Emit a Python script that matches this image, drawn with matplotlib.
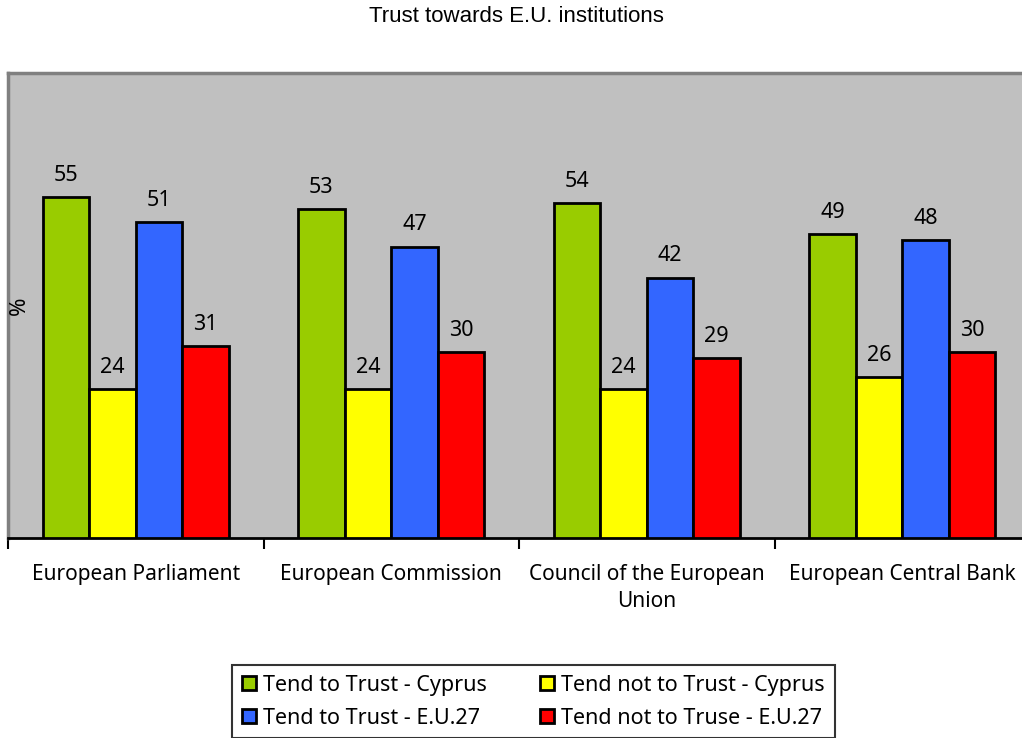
import matplotlib
matplotlib.use("Agg")
import matplotlib.pyplot as plt
import numpy as np
from matplotlib.patches import Patch

categories = ["European Parliament", "European Commission",
              "Council of the European\nUnion", "European Central Bank"]
series_names = ["Tend to Trust - Cyprus", "Tend not to Trust - Cyprus",
                "Tend to Trust - E.U.27", "Tend not to Truse - E.U.27"]
trust_cy = [55, 53, 54, 49]
distrust_cy = [24, 24, 24, 26]
trust_eu = [51, 47, 42, 48]
distrust_eu = [31, 30, 29, 30]
colors = ["#99CC00", "#FFFF00", "#3366FF", "#FF0000"]

FONT = "Noto Sans"
W, H = 1022, 738
fig = plt.figure(figsize=(W / 100, H / 100), dpi=100)
ax = fig.add_axes([8 / W, (H - 538) / H, (1030 - 8) / W, (538 - 73) / H])
ax.set_facecolor("#C0C0C0")

data = [trust_cy, distrust_cy, trust_eu, distrust_eu]
x = np.arange(len(categories))
bw = 0.182
for i, (vals, c) in enumerate(zip(data, colors)):
    pos = x + (i - 1.5) * bw
    bars = ax.bar(pos, vals, width=bw, color=c, edgecolor="black", linewidth=2, zorder=3)
    for b, v in zip(bars, vals):
        ax.text(b.get_x() + b.get_width() / 2, v + 1.8, str(v), ha="center", va="bottom",
                fontsize=15.5, family=FONT)

ax.set_xlim(-0.5, len(categories) - 0.5)
ax.set_ylim(0, 75)
ax.set_yticks([])
ax.set_xticks(np.arange(len(categories) + 1) - 0.5)
ax.set_xticklabels([])
ax.set_xticks(x, minor=True)
ax.set_xticklabels(categories, minor=True, fontsize=15, family=FONT, linespacing=1.35)
ax.tick_params(axis="x", which="major", direction="out", length=8, width=1.5, color="black")
ax.tick_params(axis="x", which="minor", length=0, pad=19)

for s in ["left", "top"]:
    ax.spines[s].set_color("#808080")
    ax.spines[s].set_linewidth(2.5)
ax.spines["right"].set_visible(False)
ax.spines["bottom"].set_color("black")
ax.spines["bottom"].set_linewidth(2)

fig.text(19 / W, 1 - 306 / H, "%", rotation=90, ha="center", va="center", fontsize=16,
         family=FONT)
fig.text(516 / W, 1 - 17 / H, "Trust towards E.U. institutions", ha="center", va="center",
         fontsize=16, family="Liberation Sans")

handles = [Patch(facecolor=c, edgecolor="black", linewidth=2) for c in colors]
order = [0, 2, 1, 3]
leg = fig.legend([handles[i] for i in order], [series_names[i] for i in order],
                 loc="upper left", bbox_to_anchor=(232 / W, 1 - 665 / H), ncol=2,
                 frameon=True, fancybox=False, edgecolor="black",
                 handlelength=0.65, handleheight=0.65, handletextpad=0.35,
                 columnspacing=2.45, borderpad=0.45, labelspacing=0.56, borderaxespad=0,
                 prop={"family": FONT, "size": 15.5})
leg.get_frame().set_linewidth(1.5)

fig.savefig("out.png", dpi=100)
